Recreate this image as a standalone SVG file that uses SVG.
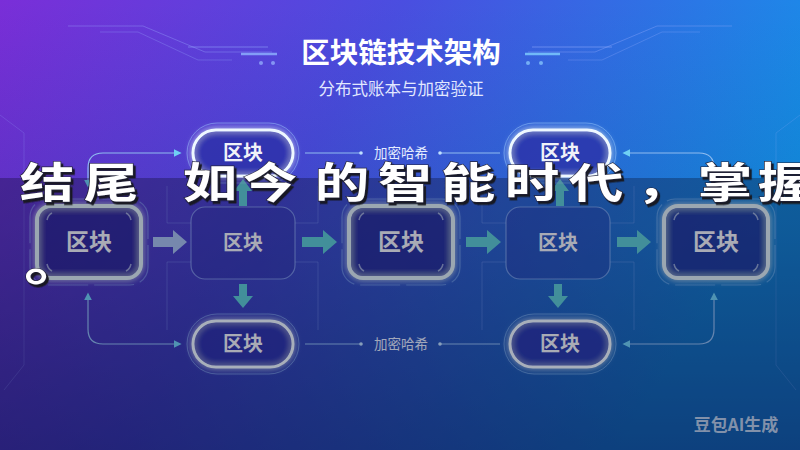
<svg xmlns="http://www.w3.org/2000/svg" width="800" height="450" viewBox="0 0 800 450">
<defs>
<linearGradient id="bg" x1="0" y1="0" x2="1" y2="0.35">
<stop offset="0" stop-color="#7a2ed8"/>
<stop offset="0.45" stop-color="#4a4ee0"/>
<stop offset="1" stop-color="#1494ea"/>
</linearGradient>
<linearGradient id="shade" x1="0" y1="0" x2="0" y2="1">
<stop offset="0" stop-color="#0a0a40" stop-opacity="0"/>
<stop offset="0.5" stop-color="#0a0a40" stop-opacity="0.15"/>
<stop offset="1" stop-color="#0a0a50" stop-opacity="0.42"/>
</linearGradient>
<filter id="glow" x="-30%" y="-40%" width="160%" height="180%">
<feGaussianBlur in="SourceGraphic" stdDeviation="3" result="b"/>
<feMerge><feMergeNode in="b"/><feMergeNode in="SourceGraphic"/></feMerge>
</filter>
<filter id="cap" x="-5%" y="-30%" width="115%" height="170%">
<feDropShadow dx="1.6" dy="2.5" stdDeviation="0.6" flood-color="#15151f" flood-opacity="0.95"/>
</filter>
<marker id="ah" viewBox="0 0 10 10" refX="8" refY="5" markerWidth="8" markerHeight="8" orient="auto-start-reverse" markerUnits="userSpaceOnUse">
<path d="M0 0 L10 5 L0 10 z" fill="#6fd0f4"/>
</marker>
<style>
.t{font-family:"Noto Sans CJK SC","Noto Sans",sans-serif;text-anchor:middle}
.pill{fill:#2a2fa8;fill-opacity:.55;stroke:#eef8ff;stroke-width:3;filter:url(#glow)}
.ring{fill:none;stroke:#9fd0ff;stroke-opacity:.45;stroke-width:1}
.dring{fill:none;stroke:#9fd0ff;stroke-opacity:.4;stroke-width:1.2;stroke-dasharray:40 6}
.thick{fill:#22228a;fill-opacity:.45;stroke:#dcecf2;stroke-width:4;filter:url(#glow)}
.thin{fill:#2a30a0;fill-opacity:.3;stroke:#a8c8ff;stroke-opacity:.55;stroke-width:1.2}
.corner{fill:none;stroke:#d8e8f4;stroke-opacity:.6;stroke-width:1.5}
.nl{font-weight:700;fill:#f0f2f8}
.conn{fill:none;stroke:#8fbcf0;stroke-width:1.2}
.deco{fill:none;stroke:#9ab0ff;stroke-width:1}
.frame{fill:none;stroke:#9ab8ff;stroke-opacity:.28;stroke-width:1}
.barr{fill:#5ccad2}
.cap{font-family:"Noto Sans CJK SC",sans-serif;font-weight:700;fill:#ffffff;stroke:#25253a;stroke-width:1.2;paint-order:stroke;filter:url(#cap)}
</style>
</defs>

<rect width="800" height="450" fill="url(#bg)"/>
<rect width="800" height="450" fill="url(#shade)"/>

<g id="decoration">
<path class="deco" stroke-opacity=".35" d="M68 26 H143 L205 52 H272"/>
<path class="deco" stroke-opacity=".28" d="M100 32 H138 L198 60 H232"/>
<path class="deco" stroke-opacity=".5" d="M188 47 H268"/>
<path d="M241 54 H277" stroke="#8fb4ff" stroke-width="2.5" stroke-opacity=".8"/>
<circle cx="261" cy="63" r="2" fill="#9ab8ff" fill-opacity=".7"/>
<circle cx="273" cy="63" r="2" fill="#9ab8ff" fill-opacity=".7"/>
<path class="deco" stroke-opacity=".35" d="M732 26 H657 L595 52 H528"/>
<path class="deco" stroke-opacity=".28" d="M700 32 H662 L602 60 H568"/>
<path class="deco" stroke-opacity=".5" d="M612 47 H532"/>
<path d="M525 54 H560" stroke="#7fd0ff" stroke-width="2.5" stroke-opacity=".8"/>
<circle cx="528" cy="63" r="2" fill="#8fd0ff" fill-opacity=".7"/>
<circle cx="541" cy="63" r="2" fill="#8fd0ff" fill-opacity=".7"/>
<path class="deco" stroke-opacity=".2" d="M0 115 L24 133 V365 L4 390"/>
<path class="deco" stroke-opacity=".2" d="M800 115 L776 133 V365 L796 390"/>
<path class="frame" d="M191 223 H167 V186 M191 262 H167 V330 M295 223 H318 V186 M295 262 H318 V330"/>
<path class="frame" d="M506 223 H482 V186 M506 262 H482 V330 M610 223 H634 V186 M610 262 H634 V330"/>
</g>

<text id="title" class="t" x="401" y="63" font-size="28.5" font-weight="700" fill="#ffffff">区块链技术架构</text>
<text id="subtitle" class="t" x="401" y="95" font-size="16.5" fill="#e2e8ff">分布式账本与加密验证</text>

<g id="connectors">
<path class="conn" d="M88 186 V168 Q88 153 103 153 H180" marker-start="url(#ah)" marker-end="url(#ah)"/>
<path class="conn" d="M88 294 V329 Q88 344 103 344 H180" marker-start="url(#ah)" marker-end="url(#ah)"/>
<path class="conn" d="M714 186 V168 Q714 153 699 153 H624" marker-start="url(#ah)" marker-end="url(#ah)"/>
<path class="conn" d="M714 294 V329 Q714 344 699 344 H624" marker-start="url(#ah)" marker-end="url(#ah)"/>
<path class="conn" d="M305 153 H360 M440 153 H500 M305 344 H360 M440 344 H500"/>
<circle cx="361" cy="153" r="1.8" fill="#bfe0ff"/>
<circle cx="440" cy="153" r="1.8" fill="#bfe0ff"/>
<circle cx="361" cy="344" r="1.8" fill="#bfe0ff"/>
<circle cx="440" cy="344" r="1.8" fill="#bfe0ff"/>
<text class="t" x="401" y="158" font-size="13.5" fill="#e4ecff">加密哈希</text>
<text class="t" x="401" y="349" font-size="13.5" fill="#e4ecff">加密哈希</text>
<path fill="#a6c0ec" d="M153 237 H173 V230 L187 242 L173 254 V247 H153 Z"/>
<path class="barr" d="M302 237 H323 V230 L337 242 L323 254 V247 H302 Z"/>
<path class="barr" d="M466 237 H487 V230 L501 242 L487 254 V247 H466 Z"/>
<path class="barr" d="M617 237 H637 V230 L651 242 L637 254 V247 H617 Z"/>
<path class="barr" d="M239 284 H247 V296 H253 L243 308 L233 296 H239 Z"/>
<path class="barr" d="M554 284 H562 V296 H568 L558 308 L548 296 H554 Z"/>
<path class="barr" d="M239 206 H247 V191 H252 L243 179 L234 191 H239 Z"/>
<path class="barr" d="M556 206 H564 V191 H569 L560 179 L551 191 H556 Z"/>
</g>

<g id="pill-top-left">
<rect class="ring" x="187" y="123" width="112" height="60" rx="30"/>
<rect class="pill" x="193" y="130" width="100" height="46" rx="23"/>
<text class="t nl" x="243" y="160" font-size="20">区块</text>
</g>
<g id="pill-top-right">
<rect class="ring" x="504" y="123" width="112" height="60" rx="30"/>
<rect class="pill" x="510" y="130" width="100" height="46" rx="23"/>
<text class="t nl" x="560" y="160" font-size="20">区块</text>
</g>
<g id="pill-bottom-left">
<rect class="ring" x="187" y="314" width="112" height="60" rx="30"/>
<rect class="pill" x="193" y="321" width="100" height="46" rx="23"/>
<text class="t nl" x="243" y="351" font-size="20">区块</text>
</g>
<g id="pill-bottom-right">
<rect class="ring" x="504" y="314" width="112" height="60" rx="30"/>
<rect class="pill" x="510" y="321" width="100" height="46" rx="23"/>
<text class="t nl" x="560" y="351" font-size="20">区块</text>
</g>

<g id="node-1">
<rect class="dring" x="30" y="199" width="118" height="86" rx="18"/>
<rect class="thick" x="37" y="206" width="104" height="72" rx="14"/>
<path class="corner" d="M47 220 Q48 215 52 213 M131 220 Q130 215 126 213 M47 264 Q48 269 52 271 M131 264 Q130 269 126 271"/>
<text class="t nl" x="89" y="250" font-size="23">区块</text>
</g>
<g id="node-2">
<rect class="thin" x="191" y="207" width="104" height="72" rx="14"/>
<text class="t nl" x="243" y="250" font-size="20">区块</text>
</g>
<g id="node-3">
<rect class="dring" x="342" y="199" width="118" height="86" rx="18"/>
<rect class="thick" x="349" y="206" width="104" height="72" rx="14"/>
<path class="corner" d="M359 220 Q360 215 364 213 M443 220 Q442 215 438 213 M359 264 Q360 269 364 271 M443 264 Q442 269 438 271"/>
<text class="t nl" x="401" y="250" font-size="23">区块</text>
</g>
<g id="node-4">
<rect class="thin" x="506" y="207" width="104" height="72" rx="14"/>
<text class="t nl" x="558" y="250" font-size="20">区块</text>
</g>
<g id="node-5">
<rect class="dring" x="657" y="199" width="118" height="86" rx="18"/>
<rect class="thick" x="664" y="206" width="104" height="72" rx="14"/>
<path class="corner" d="M674 220 Q675 215 679 213 M758 220 Q757 215 753 213 M674 264 Q675 269 679 271 M758 264 Q757 269 753 271"/>
<text class="t nl" x="716" y="250" font-size="23">区块</text>
</g>

<text id="watermark" class="t" x="736" y="431" font-size="17" font-weight="700" fill="#d8e2f4" fill-opacity=".85">豆包AI生成</text>

<rect id="caption-band" x="0" y="178" width="800" height="272" fill="#05051a" opacity="0.3"/>

<text id="caption" class="cap" transform="scale(1.3 1)" font-size="42"><tspan x="15.2 64.4 120 140.5 186.7 242.1 290.5 339 388.2 437.5 489.2 536.7 582.8" y="198">结尾 如今的智能时代，掌握</tspan><tspan x="18.5" y="280" font-size="48">。</tspan></text>
</svg>
